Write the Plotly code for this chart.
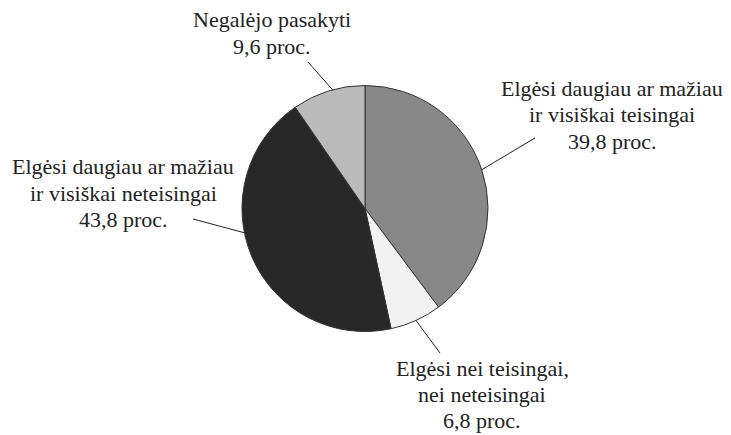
import math
import plotly.graph_objects as go

# survey answers, clockwise from 12 o'clock
labels = [
    ["Elgėsi daugiau ar mažiau", "ir visiškai teisingai"],
    ["Elgėsi nei teisingai,", "nei neteisingai"],
    ["Elgėsi daugiau ar mažiau", "ir visiškai neteisingai"],
    ["Negalėjo pasakyti"],
]
values = [39.8, 6.8, 43.8, 9.6]
colors = ["#888888", "#f2f2f2", "#282828", "#bbbbbb"]

W, H = 731, 435
OFF = 8  # page body margin in the browser
cx, cy, R = 365 - OFF, 208.5 - OFF, 123

# label centre x, first baseline y, line step (page pixels)
label_x = [612, 482, 123, 272]
label_base = [95, 375.5, 173, 26]
label_step = [26.7, 26, 27, 27.3]
leader_end = [(535, 138), (440, 353), (193, 219), (308, 62)]
leader_tweak = [0, 0, 12, 2]  # degrees added to slice mid-angle


def px(x):
    return x / W


def py(y):
    return 1 - y / H


fig = go.Figure()
fig.add_trace(go.Pie(
    labels=[" ".join(l) for l in labels], values=values, sort=False,
    direction="clockwise", rotation=0,
    marker=dict(colors=colors, line=dict(color="#333333", width=1)),
    textinfo="none", hoverinfo="label+value", showlegend=False,
    domain=dict(x=[px(cx - R), px(cx + R)], y=[py(cy + R), py(cy - R)]),
))

total = sum(values)
cum = 0
for i, v in enumerate(values):
    mid = (cum + v / 2) / total * 360 + leader_tweak[i]
    cum += v
    a = math.radians(mid)
    x0, y0 = cx + R * math.sin(a), cy - R * math.cos(a)
    x1, y1 = leader_end[i][0] - OFF, leader_end[i][1] - OFF
    fig.add_shape(type="line", x0=px(x0), y0=py(y0), x1=px(x1), y1=py(y1),
                  xref="paper", yref="paper", line=dict(color="#222222", width=1))
    pct = f"{v:.1f}".replace(".", ",")
    for k, line in enumerate(labels[i] + [f"{pct} proc."]):
        y = label_base[i] + k * label_step[i] - 7 - OFF
        fig.add_annotation(x=px(label_x[i] - OFF), y=py(y), xref="paper", yref="paper",
                           text=line, showarrow=False, xanchor="center", yanchor="middle",
                           font=dict(family="Times New Roman", size=22, color="#222222"))

fig.update_layout(
    template="none",
    width=W, height=H,
    margin=dict(l=0, r=0, t=0, b=0),
    font=dict(family="Times New Roman", size=22, color="#222222"),
    paper_bgcolor="white", plot_bgcolor="white",
)

fig.write_html("out.html")
